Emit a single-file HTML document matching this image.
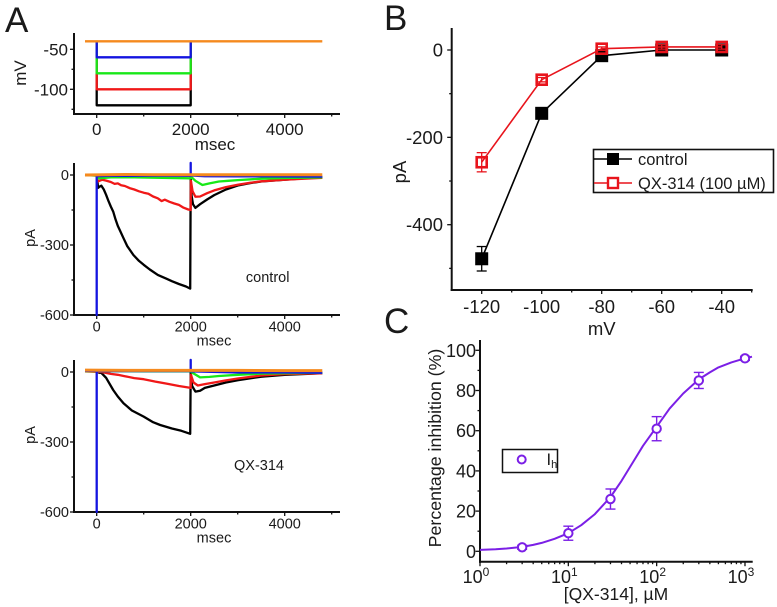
<!DOCTYPE html>
<html lang="en">
<head>
<meta charset="utf-8">
<title>QX-314 inhibition of Ih</title>
<style>
html,body{margin:0;padding:0;background:#fff;width:777px;height:607px;overflow:hidden}
svg{display:block;font-family:"Liberation Sans",sans-serif;fill:#1a1a1a}
</style>
</head>
<body>
<svg id="figure" xmlns="http://www.w3.org/2000/svg" width="777" height="607" viewBox="0 0 777 607"></svg>
<script>
/* Panel A: voltage protocol */
const protocolLevels = [-120, -100, -80, -60, -40];
const protocolColors = ["#000000", "#f01818", "#18e818", "#1414e0", "#f58a1e"];
const protocolNames = ["black", "red", "green", "blue", "orange"];
const pulseStart = 0;
const pulseEnd = 2000;
const sweepStart = -250;
const sweepEnd = 4800;
const timeTicks = [0, 2000, 4000];
const timeMinorTicks = [1000, 3000, 5000];
const mvTicks = [-50, -100];
const mvMinorTicks = [-75, -125];
const paTicksA = [0, -300, -600];
const paMinorTicksA = [-150, -450];

/* Panel A: control currents, [msec, pA] */
const controlBlack = [[-250,0],[0,0],[30,-55],[60,-50],[100,-46],[150,-62],[200,-85],[250,-112],[300,-135],[350,-157],[400,-190],[450,-218],[500,-240],[570,-271],[650,-305],[780,-343],[900,-368],[1000,-385],[1130,-405],[1300,-428],[1490,-445],[1600,-455],[1750,-467],[1900,-478],[1990,-487],[2000,-10],[2020,-90],[2050,-125],[2100,-141],[2200,-125],[2350,-105],[2500,-86],[2750,-62],[3000,-45],[3250,-35],[3500,-28],[4000,-20],[4400,-14],[4800,-10]];
const controlRed = [[-250,0],[0,0],[20,-28],[60,-25],[120,-20],[200,-24],[300,-30],[380,-38],[450,-36],[520,-44],[600,-47],[700,-56],[800,-62],[900,-70],[1000,-76],[1100,-80],[1200,-92],[1300,-100],[1380,-112],[1450,-106],[1550,-115],[1650,-122],[1750,-128],[1850,-140],[1950,-148],[2000,-150],[2005,-25],[2040,-70],[2100,-93],[2200,-92],[2350,-78],[2500,-66],[2750,-52],[3000,-42],[3250,-34],[3500,-27],[4000,-20],[4400,-16],[4800,-12]];
const controlGreen = [[-250,0],[0,-3],[40,-14],[300,-10],[800,-10],[1400,-12],[2000,-14],[2010,-8],[2100,-25],[2250,-43],[2400,-36],[2600,-28],[2800,-25],[3000,-22],[3500,-16],[4000,-13],[4800,-10]];
const controlBlue = [[-250,0],[0,0],[0,-600],[0,-5],[300,-3],[700,-4],[1300,-3],[1999,-4],[2000,52],[2000,-2],[2300,-5],[3000,-6],[3700,-6],[4800,-7]];
const controlOrange = [[-250,0],[600,2],[1200,1],[2000,1],[2800,1],[3600,1],[4800,1]];

/* Panel A: QX-314 currents, [msec, pA] */
const qxBlack = [[-250,3],[0,3],[50,-3],[100,-4],[200,-25],[350,-77],[450,-105],[570,-134],[750,-165],[1000,-191],[1200,-215],[1350,-227],[1600,-242],[1800,-252],[1990,-265],[2000,0],[2030,-60],[2100,-84],[2200,-80],[2300,-68],[2500,-58],[2750,-45],[3000,-35],[3500,-20],[4000,-12],[4800,-5]];
const qxRed = [[-250,3],[100,0],[300,-8],[450,-12],[600,-18],[800,-26],[1000,-31],[1250,-41],[1500,-50],[1750,-60],[2000,-68],[2005,-12],[2060,-45],[2150,-58],[2300,-52],[2500,-45],[2750,-36],[3000,-28],[3500,-15],[4000,-9],[4800,-5]];
const qxGreen = [[-250,4],[1000,3],[2000,3],[2010,0],[2200,-23],[2400,-21],[2600,-17],[3000,-12],[3500,-7],[4000,-5],[4800,-3]];
const qxBlue = [[-250,5],[0,5],[0,-600],[0,4],[1000,4],[1999,4],[2000,52],[2000,3],[3000,-2],[4000,-2],[4800,-3]];
const qxOrange = [[-250,8],[1000,7],[2000,7],[3000,7],[4000,6],[4800,6]];

/* Panel B: I-V data */
const voltages = [-120, -100, -80, -60, -40];
const controlCurrent = [-478, -145, -13, 0, 0];
const controlError = [28, 6, 4, 3, 3];
const qxCurrent = [-257, -68, 3, 7, 7];
const qxError = [22, 5, 4, 5, 5];
const ivXTicks = [-120, -100, -80, -60, -40];
const ivXMinorTicks = [-110, -90, -70, -50, -30];
const ivYTicks = [0, -200, -400];
const ivYMinorTicks = [-100, -300, -500];

/* Panel C: dose-response data */
const doses = [3, 10, 30, 100, 300, 1000];
const inhibition = [2, 9, 26, 61, 85, 96];
const inhibitionError = [1, 3.5, 5, 6, 4, 1];
const fitDoses = [1, 1.5, 2, 3, 4, 5, 7, 10, 14, 20, 30, 40, 50, 70, 100, 140, 200, 300, 400, 500, 700, 1000, 1200];
const fitValues = [0.7, 1, 1.4, 2.2, 3.2, 4.2, 6.2, 9, 13, 18.5, 27, 35, 42, 52.5, 62, 71, 78.5, 85.5, 89, 91.5, 94, 96, 96.8];
const doseExponents = [0, 1, 2, 3];
const doseMinor = [2,3,4,5,6,7,8,9,20,30,40,50,60,70,80,90,200,300,400,500,600,700,800,900];
const pctTicks = [0, 20, 40, 60, 80, 100];
const pctMinorTicks = [10, 30, 50, 70, 90];

const svg = document.getElementById('figure');
const NS = 'http://www.w3.org/2000/svg';

function make(tag, attrs) {
  const e = document.createElementNS(NS, tag);
  for (const k in attrs) e.setAttribute(k, attrs[k]);
  svg.appendChild(e);
  return e;
}
function seg(name, x1, y1, x2, y2, color, width) {
  const e = make('line', {x1, y1, x2, y2, stroke: color, 'stroke-width': width});
  
  
  return e;
}
function label(name, str, x, y, size, anchor, rotate) {
  const attrs = {x, y, 'font-size': size, 'text-anchor': anchor || 'middle'};
  if (rotate) attrs.transform = 'rotate(-90 ' + x + ' ' + y + ')';
  const e = make('text', attrs);
  e.textContent = str;
  
  
  return e;
}
function linear(d0, d1, p0, p1) {
  return v => p0 + (v - d0) * (p1 - p0) / (d1 - d0);
}
function trace(name, pts, sx, sy, color, width) {
  const p = pts.map(a => sx(a[0]).toFixed(1) + ',' + sy(a[1]).toFixed(1)).join(' ');
  const e = make('polyline', {points: p, fill: 'none', stroke: color, 'stroke-width': width, 'stroke-linejoin': 'round'});
  
  
  return e;
}

const INK = '#111111';
function frame(prefix, x0, x1, y0, y1) {
  seg(prefix + '-y-axis', x0, y0, x0, y1 + 1, INK, 2);
  seg(prefix + '-x-axis', x0 - 1, y1, x1, y1, INK, 2);
}
function xTick(prefix, px, y, len) { seg(prefix + '-x-tick', px, y, px, y + len, INK, 1.3); }
function yTick(prefix, x, py, len) { seg(prefix + '-y-tick', x, py, x - len, py, INK, 1.3); }

/* ---------- Panel letters ---------- */
label('panel-a-letter', 'A', 5, 32, 35, 'start');
label('panel-b-letter', 'B', 384, 30, 35, 'start');
label('panel-c-letter', 'C', 384, 333, 35, 'start');

/* ---------- Shared time axis ---------- */
const tx = linear(0, 2000, 96.7, 190.7);

/* ---------- A1 protocol ---------- */
const mvY = linear(-50, -100, 49.3, 89.3);
frame('protocol', 74, 340, 33, 114);
timeTicks.forEach(t => { xTick('protocol', tx(t), 114, 4); label('protocol-x-tick-label', String(t), tx(t), 135, 17); });
timeMinorTicks.forEach(t => xTick('protocol', tx(t), 114, 2.5));
mvTicks.forEach(v => { yTick('protocol', 74, mvY(v), 4); label('protocol-y-tick-label', String(v), 68, mvY(v) + 6, 17, 'end'); });
mvMinorTicks.forEach(v => yTick('protocol', 74, mvY(v), 2.5));
label('protocol-y-title', 'mV', 26, 73, 17, 'middle', true);
label('protocol-x-title', 'msec', 215, 150, 17);
protocolLevels.forEach((lv, i) => {
  const pts = [[sweepStart, -40], [pulseStart, -40], [pulseStart, lv], [pulseEnd, lv], [pulseEnd, -40], [sweepEnd, -40]];
  const drawn = i === protocolLevels.length - 1 ? pts : pts.slice(1, 5);
  trace('protocol-step-' + protocolNames[i], drawn, tx, mvY, protocolColors[i], 2.3);
});

/* ---------- current panels ---------- */
function currentPanel(prefix, yTop, yZero, yMin, traces) {
  const sy = linear(0, -600, yZero, yMin);
  frame(prefix, 74, 340, yTop, yMin);
  const lblY = yMin + 16.5;
  timeTicks.forEach(t => { xTick(prefix, tx(t), yMin, 4); label(prefix + '-x-tick-label', String(t), tx(t), lblY, 14.5); });
  timeMinorTicks.forEach(t => xTick(prefix, tx(t), yMin, 2.5));
  paTicksA.forEach(v => { yTick(prefix, 74, sy(v), 4); label(prefix + '-y-tick-label', String(v), 69, sy(v) + 5, 14.5, 'end'); });
  paMinorTicksA.forEach(v => yTick(prefix, 74, sy(v), 2.5));
  label(prefix + '-y-title', 'pA', 35, yMin - 77, 14.5, 'middle', true);
  label(prefix + '-x-title', 'msec', 214, yMin + 30.5, 14.5);
  traces.forEach((s, i) => {
    trace(prefix + '-trace-' + protocolNames[i], s, tx, sy, protocolColors[i], i === 4 ? 3 : 2.3);
  });
}
currentPanel('control', 163, 175, 315, [controlBlack, controlRed, controlGreen, controlBlue, controlOrange]);
label('control-annotation', 'control', 267.7, 282, 14.5);
currentPanel('qx', 360, 372, 512, [qxBlack, qxRed, qxGreen, qxBlue, qxOrange]);
label('qx-annotation', 'QX-314', 259, 470, 14.5);

/* ---------- Panel B ---------- */
const ivX = linear(-120, -40, 481.7, 721.7);
const ivY = linear(0, -400, 50, 224.7);
frame('iv', 451.7, 752.7, 28, 290);
ivXTicks.forEach(v => { xTick('iv', ivX(v), 290, 4); label('iv-x-tick-label', String(v), ivX(v), 313, 18.5); });
ivXMinorTicks.forEach(v => xTick('iv', ivX(v), 290, 2.5));
ivYTicks.forEach(v => { yTick('iv', 451.7, ivY(v), 4.5); label('iv-y-tick-label', String(v), 443, ivY(v) + 6.5, 18.5, 'end'); });
ivYMinorTicks.forEach(v => yTick('iv', 451.7, ivY(v), 2.5));
label('iv-x-title', 'mV', 601.7, 335, 18.5);
label('iv-y-title', 'pA', 406, 172, 18.5, 'middle', true);

function ivSeries(prefix, vals, errs, color, filled) {
  const pts = voltages.map((v, i) => [v, vals[i]]);
  trace(prefix + '-line', pts, ivX, ivY, color, 1.6);
  voltages.forEach((v, i) => {
    const x = ivX(v), y1 = ivY(vals[i] - errs[i]), y2 = ivY(vals[i] + errs[i]);
    seg(prefix + '-error-bar', x, y1, x, y2, color, 1.3);
    seg(prefix + '-error-cap', x - 5, y1, x + 5, y1, color, 1.3);
    seg(prefix + '-error-cap', x - 5, y2, x + 5, y2, color, 1.3);
    const half = filled ? 6.5 : 5;
    const r = make('rect', {x: x - half, y: ivY(vals[i]) - half, width: half * 2, height: half * 2, fill: filled ? color : 'none', stroke: filled ? 'none' : color, 'stroke-width': 2.6});
    
    
  });
}
ivSeries('iv-control', controlCurrent, controlError, '#000000', true);
ivSeries('iv-qx', qxCurrent, qxError, '#e8141c', false);

const ivLegend = make('rect', {x: 593.5, y: 149.5, width: 180, height: 43, fill: 'none', stroke: INK, 'stroke-width': 1.6});


seg('iv-legend-control-line', 594, 159, 632, 159, '#000000', 1.6);
const lgA = make('rect', {x: 607, y: 153, width: 12, height: 12, fill: '#000000'});


label('iv-legend-control-label', 'control', 638, 165, 16.5, 'start');
seg('iv-legend-qx-line', 594, 183, 632, 183, '#e8141c', 1.6);
const lgB = make('rect', {x: 608, y: 178, width: 10, height: 10, fill: '#fff', stroke: '#e8141c', 'stroke-width': 2.4});


label('iv-legend-qx-label', 'QX-314 (100 µM)', 638, 189, 16.5, 'start');

/* ---------- Panel C ---------- */
const PURPLE = '#7b1fe6';
const logX = v => 480 + Math.log10(v) * 88.33;
const pctY = linear(0, 100, 551.3, 350.3);
frame('dose', 480, 752.7, 340, 561.7);
doseExponents.forEach(n => {
  const px = logX(Math.pow(10, n));
  xTick('dose', px, 561.7, 4.5);
  const t = label('dose-x-tick-label', '10', px - 4, 583, 18);
  const s = make('tspan', {dy: -7, 'font-size': 12});
  s.textContent = String(n);
  t.appendChild(s);
});
doseMinor.forEach(v => xTick('dose', logX(v), 561.7, 2.5));
pctTicks.forEach(v => { yTick('dose', 480, pctY(v), 4.5); label('dose-y-tick-label', String(v), 476, pctY(v) + 6.5, 18, 'end'); });
pctMinorTicks.forEach(v => yTick('dose', 480, pctY(v), 2.5));
label('dose-x-title', '[QX-314], µM', 616, 600, 17.5);
label('dose-y-title', 'Percentage inhibition (%)', 441, 448, 17.8, 'middle', true);

trace('dose-fit-curve', fitDoses.map((d, i) => [d, fitValues[i]]), logX, pctY, PURPLE, 2);
doses.forEach((d, i) => {
  const x = logX(d), y1 = pctY(inhibition[i] - inhibitionError[i]), y2 = pctY(inhibition[i] + inhibitionError[i]);
  seg('dose-error-bar', x, y1, x, y2, PURPLE, 1.4);
  seg('dose-error-cap', x - 5, y1, x + 5, y1, PURPLE, 1.4);
  seg('dose-error-cap', x - 5, y2, x + 5, y2, PURPLE, 1.4);
  const c = make('circle', {cx: x, cy: pctY(inhibition[i]), r: 4.2, fill: '#fff', stroke: PURPLE, 'stroke-width': 2});
  
  
});

const doseLegend = make('rect', {x: 502.5, y: 449.5, width: 55, height: 23, fill: '#fff', stroke: INK, 'stroke-width': 1.5});


const lgC = make('circle', {cx: 521.7, cy: 459.5, r: 4, fill: 'none', stroke: PURPLE, 'stroke-width': 2});


const lgText = label('dose-legend-label', 'I', 546.5, 465, 16.5, 'start');
const sub = make('tspan', {dy: 3, 'font-size': 11});
sub.textContent = 'h';
lgText.appendChild(sub);
</script>
</body>
</html>
